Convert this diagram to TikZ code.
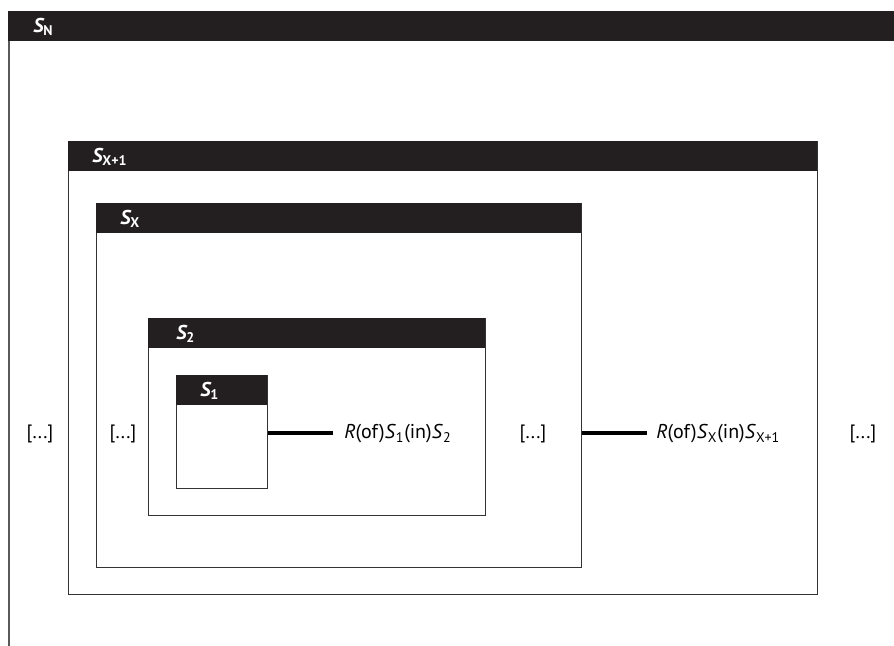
\documentclass[tikz,border=0pt]{standalone}
\usepackage{fontspec}
\setmainfont{PT Sans}
\begin{document}
\begin{tikzpicture}[x=0.75pt,y=-0.75pt,
  box/.style={draw=black!80,line width=1.1pt,fill=white,rectangle,anchor=north west,inner sep=0pt},
  hdr/.style={fill=headcol,draw=none,rectangle,anchor=north west,inner sep=0pt,minimum height=22.5pt},
  hlab/.style={text=white,anchor=west,inner sep=0pt,font=\fontsize{15}{17}\selectfont},
  lab/.style={anchor=west,inner sep=0pt,font=\fontsize{15}{17}\selectfont},
  dots/.style={inner sep=0pt,font=\fontsize{14.5}{16}\selectfont},
  conn/.style={line width=2.3pt,black}]
\definecolor{headcol}{HTML}{231F20}
\useasboundingbox (0,0) rectangle (894,646);
\newcommand{\hS}[1]{{\bfseries\itshape S}\textsubscript{\bfseries #1}}
% outer S_N
\node[hdr,minimum width=665pt] (hN) at (8,11) {};
\coordinate (nTop) at (9,41);
\coordinate (nBot) at (9,646);
\draw[line width=1.5pt,black!65] (nTop) -- (nBot);
\node[hlab] (lN) at (33,27) {\hS{N}};
% S_{X+1}
\node[box,minimum width=561.75pt,minimum height=339.75pt] (bX1) at (68,141) {};
\node[hdr,minimum width=561.75pt] (hX1) at (68,141) {};
\node[hlab] (lX1) at (92,157) {\hS{X+1}};
% S_X
\node[box,minimum width=363.75pt,minimum height=273pt] (bX) at (96,203) {};
\node[hdr,minimum width=363.75pt] (hX) at (96,203) {};
\node[hlab] (lX) at (120,219) {\hS{X}};
% S_2
\node[box,minimum width=252.75pt,minimum height=147.75pt] (b2) at (148,318) {};
\node[hdr,minimum width=252.75pt] (h2) at (148,318) {};
\node[hlab] (l2) at (176,334) {\hS{2}};
% S_1
\node[box,minimum width=68.25pt,minimum height=84.75pt] (b1) at (176,375) {};
\node[hdr,minimum width=68.25pt] (h1) at (176,375) {};
\node[hlab] (l1) at (200,391) {\hS{1}};
% labels
\node[lab] (r1) at (344,434) {\textit{R}(of)\textit{S}\textsubscript{1}(in)\textit{S}\textsubscript{2}};
\node[lab] (r2) at (656,434) {\textit{R}(of)\textit{S}\textsubscript{X}(in)\textit{S}\textsubscript{X+1}};
\node[dots] (d1) at (40,434) {[...]};
\node[dots] (d2) at (123,434) {[...]};
\node[dots] (d3) at (533,434) {[...]};
\node[dots] (d4) at (863,434) {[...]};
% connectors
\coordinate (c1) at (333,433);
\coordinate (c2) at (647,433);
\draw[conn] (b1.east |- c1) -- (c1);
\draw[conn] (bX.east |- c2) -- (c2);
\end{tikzpicture}
\end{document}
